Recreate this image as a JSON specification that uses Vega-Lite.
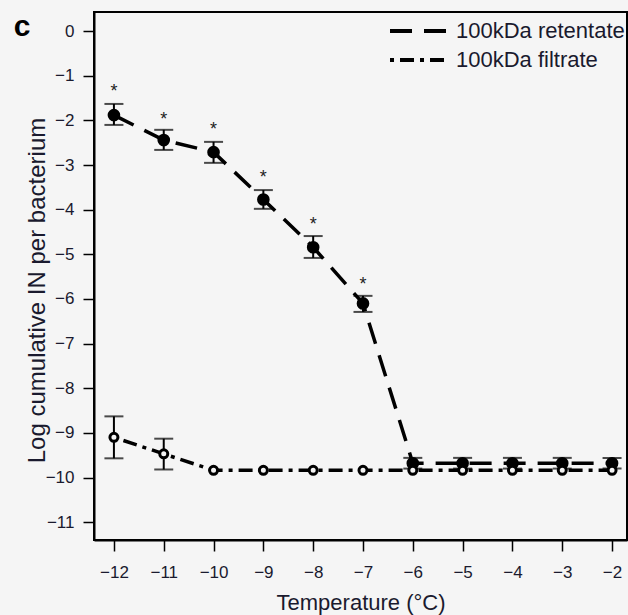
{
  "$schema": "https://vega.github.io/schema/vega-lite/v6.json",
  "width": 533,
  "height": 528,
  "autosize": {"type": "none"},
  "padding": {"left": 94, "top": 12, "right": 1, "bottom": 75},
  "background": "#f5f5f5",
  "title": {
    "text": "c",
    "orient": "left",
    "anchor": "end",
    "frame": "group",
    "angle": 0,
    "align": "right",
    "baseline": "alphabetic",
    "font": "Liberation Sans",
    "fontSize": 30,
    "fontWeight": "bold",
    "color": "#000000",
    "offset": -22,
    "dy": 24
  },
  "config": {
    "font": "Liberation Sans",
    "view": {"stroke": "#000000", "strokeWidth": 2},
    "axis": {
      "grid": false,
      "domainColor": "#000000",
      "domainWidth": 2,
      "tickColor": "#000000",
      "tickWidth": 1.5,
      "tickSize": 11,
      "labelFont": "Liberation Sans",
      "labelFontSize": 17,
      "labelColor": "#1a1a2e",
      "titleFont": "Liberation Sans",
      "titleFontWeight": "normal",
      "titleColor": "#1a1a2e"
    }
  },
  "data": {
    "values": [
      {"temp": -12, "series": "100kDa retentate", "value": -1.88, "lo": -2.10, "hi": -1.63, "star": -1.26},
      {"temp": -11, "series": "100kDa retentate", "value": -2.44, "lo": -2.66, "hi": -2.21, "star": -1.88},
      {"temp": -10, "series": "100kDa retentate", "value": -2.71, "lo": -2.95, "hi": -2.48, "star": -2.11},
      {"temp": -9, "series": "100kDa retentate", "value": -3.77, "lo": -3.98, "hi": -3.56, "star": -3.18},
      {"temp": -8, "series": "100kDa retentate", "value": -4.84, "lo": -5.08, "hi": -4.59, "star": -4.24},
      {"temp": -7, "series": "100kDa retentate", "value": -6.10, "lo": -6.29, "hi": -5.93, "star": -5.58},
      {"temp": -6, "series": "100kDa retentate", "value": -9.68, "lo": -9.80, "hi": -9.56, "star": null},
      {"temp": -5, "series": "100kDa retentate", "value": -9.68, "lo": -9.80, "hi": -9.56, "star": null},
      {"temp": -4, "series": "100kDa retentate", "value": -9.68, "lo": -9.80, "hi": -9.56, "star": null},
      {"temp": -3, "series": "100kDa retentate", "value": -9.68, "lo": -9.80, "hi": -9.56, "star": null},
      {"temp": -2, "series": "100kDa retentate", "value": -9.68, "lo": -9.80, "hi": -9.56, "star": null},
      {"temp": -12, "series": "100kDa filtrate", "value": -9.10, "lo": -9.57, "hi": -8.63, "star": null},
      {"temp": -11, "series": "100kDa filtrate", "value": -9.47, "lo": -9.82, "hi": -9.13, "star": null},
      {"temp": -10, "series": "100kDa filtrate", "value": -9.84, "lo": null, "hi": null, "star": null},
      {"temp": -9, "series": "100kDa filtrate", "value": -9.84, "lo": null, "hi": null, "star": null},
      {"temp": -8, "series": "100kDa filtrate", "value": -9.84, "lo": null, "hi": null, "star": null},
      {"temp": -7, "series": "100kDa filtrate", "value": -9.84, "lo": null, "hi": null, "star": null},
      {"temp": -6, "series": "100kDa filtrate", "value": -9.84, "lo": null, "hi": null, "star": null},
      {"temp": -5, "series": "100kDa filtrate", "value": -9.84, "lo": null, "hi": null, "star": null},
      {"temp": -4, "series": "100kDa filtrate", "value": -9.84, "lo": null, "hi": null, "star": null},
      {"temp": -3, "series": "100kDa filtrate", "value": -9.84, "lo": null, "hi": null, "star": null},
      {"temp": -2, "series": "100kDa filtrate", "value": -9.84, "lo": null, "hi": null, "star": null}
    ]
  },
  "encoding": {
    "x": {
      "field": "temp",
      "type": "quantitative",
      "scale": {"domain": [-12.4, -1.7], "nice": false, "zero": false},
      "axis": {
        "values": [-12, -11, -10, -9, -8, -7, -6, -5, -4, -3, -2],
        "title": "Temperature (°C)",
        "titleFontSize": 22,
        "labelPadding": 13,
        "titlePadding": 12
      }
    }
  },
  "layer": [
    {
      "mark": {"type": "line", "color": "#000000", "strokeWidth": 3.5},
      "encoding": {
        "y": {
          "field": "value",
          "type": "quantitative",
          "title": "Log cumulative IN per bacterium",
          "scale": {"domain": [-11.4, 0.43], "nice": false, "zero": false},
          "axis": {
            "values": [-11, -10, -9, -8, -7, -6, -5, -4, -3, -2, -1, 0],
            "titleFontSize": 24,
            "labelPadding": 9,
            "titlePadding": -4,
            "titleY": 278
          }
        },
        "strokeDash": {
          "field": "series",
          "type": "nominal",
          "scale": {
            "domain": ["100kDa retentate", "100kDa filtrate"],
            "range": [[22, 12], [4, 6, 14, 6]]
          },
          "legend": {
            "title": null,
            "orient": "none",
            "legendX": 311,
            "legendY": 5,
            "padding": 0,
            "symbolType": "M-2.5,0H2.5",
            "symbolSize": 538,
            "symbolStrokeWidth": 4,
            "symbolStrokeColor": "#000000",
            "symbolFillColor": "transparent",
            "labelFont": "Liberation Sans",
            "labelFontSize": 22,
            "labelLimit": 400,
            "labelColor": "#1a1a2e",
            "labelOffset": 23,
            "rowPadding": 4
          }
        }
      }
    },
    {
      "transform": [{"filter": "datum.lo != null"}],
      "mark": {"type": "errorbar", "color": "#000000", "thickness": 2, "ticks": {"size": 19, "thickness": 2, "color": "#000000"}},
      "encoding": {
        "y": {"field": "lo", "type": "quantitative", "title": "Log cumulative IN per bacterium"},
        "y2": {"field": "hi"}
      }
    },
    {
      "transform": [{"filter": "datum.series == '100kDa retentate'"}],
      "mark": {"type": "point", "filled": true, "color": "#000000", "opacity": 1, "size": 160},
      "encoding": {"y": {"field": "value", "type": "quantitative", "title": "Log cumulative IN per bacterium"}}
    },
    {
      "transform": [{"filter": "datum.series == '100kDa filtrate'"}],
      "mark": {"type": "point", "filled": false, "fill": "#f5f5f5", "fillOpacity": 1, "stroke": "#000000", "strokeWidth": 3, "opacity": 1, "size": 64},
      "encoding": {"y": {"field": "value", "type": "quantitative", "title": "Log cumulative IN per bacterium"}}
    },
    {
      "transform": [{"filter": "datum.star != null"}],
      "mark": {"type": "text", "text": "*", "font": "Liberation Sans", "fontSize": 18, "color": "#222222", "baseline": "alphabetic", "dy": 10},
      "encoding": {"y": {"field": "star", "type": "quantitative", "title": "Log cumulative IN per bacterium"}}
    }
  ]
}
